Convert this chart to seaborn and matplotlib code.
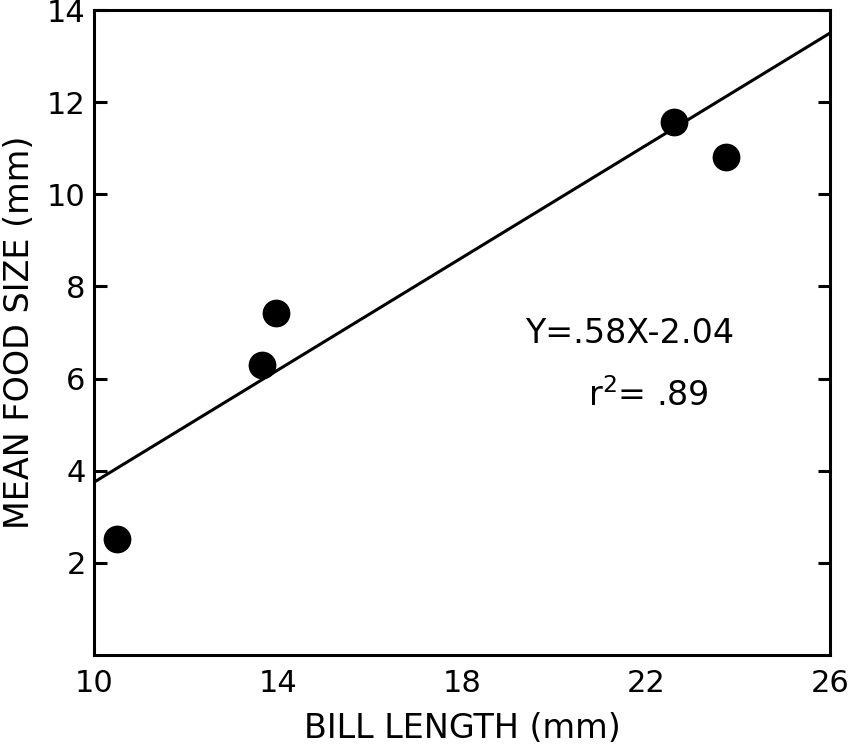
import numpy as np
import pandas as pd
import matplotlib
matplotlib.use("Agg")
import matplotlib.pyplot as plt
import seaborn as sns

# values
bill_length = [10.5, 13.65, 13.95, 22.6, 23.75]
food_size = [2.52, 6.3, 7.42, 11.58, 10.82]

# fitted line as drawn (endpoints at the axis edges)
fit_x = [10, 26]
fit_y = [3.75, 13.5]

x_ticks = [10, 14, 18, 22, 26]
y_ticks = [2, 4, 6, 8, 10, 12, 14]

equation = "Y=.58X-2.04"
r2_text = "r$^2$= .89"

sns.set_theme(style="white")
plt.rcParams["font.family"] = ["DejaVu Sans"]
plt.rcParams["mathtext.fontset"] = "dejavusans"

df = pd.DataFrame({"bill": bill_length, "food": food_size})

fig = plt.figure(figsize=(8.6, 7.49), dpi=100)
ax = fig.add_axes([0.1093, 0.1255, 0.8558, 0.8611])

sns.lineplot(x=fit_x, y=fit_y, color="black", linewidth=2.2, ax=ax)
sns.scatterplot(data=df, x="bill", y="food", color="black", s=400,
                edgecolor="black", linewidth=0, ax=ax, zorder=3)

ax.set_xlim(10, 26)
ax.set_ylim(0, 14)
ax.set_xticks(x_ticks)
ax.set_yticks(y_ticks)
ax.set_xticklabels([str(t) for t in x_ticks], fontsize=22)
ax.set_yticklabels([str(t) for t in y_ticks], fontsize=22)

for s in ax.spines.values():
    s.set_color("black")
    s.set_linewidth(2.2)

ax.tick_params(axis="x", length=0, pad=10, colors="black")
ax.tick_params(axis="y", which="both", direction="in", length=9, width=2.2,
               left=True, right=True, pad=6, colors="black")

ax.set_xlabel("BILL LENGTH (mm)", fontsize=24, labelpad=10, color="black")
ax.set_ylabel("MEAN FOOD SIZE (mm)", fontsize=24, labelpad=8, color="black")

ax.text(21.65, 6.98, equation, fontsize=24, ha="center", va="center", color="black")
ax.text(22.05, 5.62, r2_text, fontsize=24, ha="center", va="center", color="black")

fig.savefig("out.png", dpi=100)
